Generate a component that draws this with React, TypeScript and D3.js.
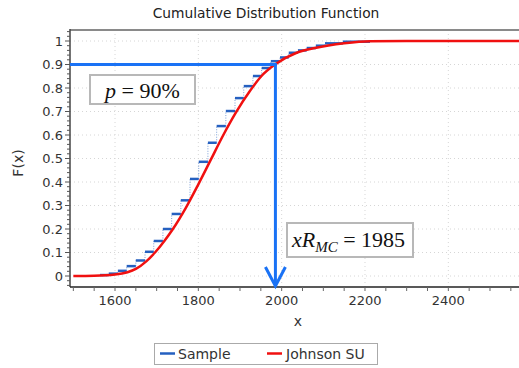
import React from 'react';
import * as d3 from 'd3';

// Johnson SU fitted CDF
const fitX = [1500, 1550, 1600, 1630, 1650, 1675, 1696, 1718, 1739, 1770, 1800, 1830, 1860, 1890, 1925, 1950, 1984, 2036, 2080, 2150, 2212, 2300, 2570];
const fitF = [0, 0.001, 0.006, 0.016, 0.03, 0.062, 0.1, 0.148, 0.2, 0.29, 0.39, 0.495, 0.6, 0.695, 0.79, 0.848, 0.9, 0.95, 0.97, 0.99, 0.999, 1, 1];

// Empirical (sample) CDF steps: level sampleF[i] from sampleX[i] to sampleX[i+1]
const sampleX = [1564, 1585, 1607, 1628, 1650, 1672, 1693, 1715, 1736, 1758, 1780, 1801, 1823, 1844, 1866, 1888, 1909, 1931, 1952, 1974, 1996, 2017, 2039, 2060, 2082, 2104, 2147, 2212];
const sampleF = [0.004, 0.01, 0.022, 0.042, 0.066, 0.103, 0.149, 0.2, 0.264, 0.322, 0.413, 0.486, 0.567, 0.638, 0.702, 0.757, 0.808, 0.851, 0.885, 0.914, 0.93, 0.95, 0.96, 0.97, 0.98, 0.99, 0.997];

const yTickValues = [0, 0.1, 0.2, 0.3, 0.4, 0.5, 0.6, 0.7, 0.8, 0.9, 1];
const yTickLabels = ['0', '0.1', '0.2', '0.3', '0.4', '0.5', '0.6', '0.7', '0.8', '0.9', '1'];
const xTickValues = [1600, 1800, 2000, 2200, 2400];
const xTickLabels = ['1600', '1800', '2000', '2200', '2400'];

const pLevel = 0.9;
const xR = 1985;

const W = 519, H = 368;
const L = 70, R = 519, T = 30, B = 287;

const SANS = '"DejaVu Sans", Verdana, sans-serif';
const SERIF = '"Liberation Serif", "Times New Roman", serif';

export default function App() {
  const x = d3.scaleLinear().domain([1600, 2400]).range([115, 448.33]);
  const y = d3.scaleLinear().domain([0, 1]).range([276, 41]);

  const xMinor = d3.range(1500, 2551, 50);
  const yMinor = d3.range(-0.04, 1.041, 0.02).map(v => Math.round(v * 100) / 100);

  const fitLine = d3.line<number>()
    .x((_, i) => x(fitX[i]))
    .y(d => y(d))
    .curve(d3.curveMonotoneX)(fitF) as string;

  const blue = '#2560c0';
  const annBlue = '#1a72f5';

  const xa = x(xR);
  const ya = y(pLevel);

  return (
    <svg width={W} height={H} style={{ position: 'absolute', left: 0, top: 0, background: '#fff' }}>
      <defs>
        <clipPath id="plot">
          <rect x={L} y={T} width={R - L} height={B - T} />
        </clipPath>
      </defs>
      {/* title */}
      <text x={266} y={18} textAnchor="middle" fontFamily={SANS} fontSize={13.8} fill="#222">Cumulative Distribution Function</text>

      {/* grid */}
      {yTickValues.map(v => (
        <line key={'gy' + v} x1={L} x2={R} y1={y(v)} y2={y(v)} stroke="#d6d6d6" strokeWidth={1} strokeDasharray="1,3" />
      ))}
      {xTickValues.map(v => (
        <line key={'gx' + v} x1={x(v)} x2={x(v)} y1={T} y2={B} stroke="#d6d6d6" strokeWidth={1} strokeDasharray="1,3" />
      ))}

      {/* sample steps */}
      <g clipPath="url(#plot)">
        {sampleF.map((f, i) => (
          i > 0 ? (
            <line key={'sv' + i} x1={x(sampleX[i])} x2={x(sampleX[i])} y1={y(sampleF[i - 1])} y2={y(f)} stroke={blue} strokeOpacity={0.6} strokeWidth={1} strokeDasharray="1,1.5" />
          ) : null
        ))}
        {sampleF.map((f, i) => (
          <line key={'sh' + i} x1={x(sampleX[i])} x2={x(sampleX[i + 1])} y1={y(f)} y2={y(f)} stroke={blue} strokeWidth={2.5} />
        ))}
        <path d={fitLine} fill="none" stroke="#f01010" strokeWidth={2.5} />
      </g>

      {/* frame / axes */}
      <line x1={L} x2={R} y1={T} y2={T} stroke="#8a8a8a" strokeWidth={2} />
      <line x1={L} x2={L} y1={T - 1} y2={B} stroke="#444" strokeWidth={1.5} />
      <line x1={L} x2={R} y1={B} y2={B} stroke="#222" strokeWidth={1.5} />

      {/* y ticks */}
      {yMinor.map(v => {
        const major = Math.abs(v * 10 - Math.round(v * 10)) < 1e-6;
        return <line key={'ym' + v} x1={L - (major ? 5 : 3)} x2={L} y1={y(v)} y2={y(v)} stroke="#555" strokeWidth={1} />;
      })}
      {yTickValues.map((v, i) => (
        <text key={'yl' + v} x={63} y={y(v)} dy="0.36em" textAnchor="end" fontFamily={SANS} fontSize={13} fill="#333">{yTickLabels[i]}</text>
      ))}

      {/* x ticks */}
      {xMinor.map(v => (
        <line key={'xm' + v} x1={x(v)} x2={x(v)} y1={B} y2={B + 4} stroke="#666" strokeWidth={1} />
      ))}
      {xTickValues.map((v, i) => (
        <text key={'xl' + v} x={x(v)} y={305} textAnchor="middle" fontFamily={SANS} fontSize={13} fill="#333">{xTickLabels[i]}</text>
      ))}

      {/* axis titles */}
      <text x={298} y={326} textAnchor="middle" fontFamily={SANS} fontSize={14} fill="#333">x</text>
      <text transform={`translate(23,${163}) rotate(-90)`} textAnchor="middle" fontFamily={SANS} fontSize={14} fill="#333">F(x)</text>

      {/* annotation lines */}
      <line x1={L} x2={xa + 1.5} y1={ya} y2={ya} stroke={annBlue} strokeWidth={3} />
      <line x1={xa} x2={xa} y1={ya} y2={B - 1} stroke={annBlue} strokeWidth={3} />
      <polyline points={`${xa - 10},${B - 20} ${xa},${B - 1} ${xa + 10},${B - 20}`} fill="none" stroke={annBlue} strokeWidth={3} />

      {/* text boxes */}
      <rect x={90} y={75} width={105} height={29} fill="#fff" stroke="#b8b8b8" strokeWidth={2} />
      <text x={105} y={98} fontFamily={SERIF} fontSize={22} fill="#111">
        <tspan fontStyle="italic">p</tspan>
        <tspan> = 90%</tspan>
      </text>
      <rect x={287} y={223} width={126} height={34} fill="#fff" stroke="#b8b8b8" strokeWidth={2} />
      <text x={292} y={247} fontFamily={SERIF} fontSize={22} fill="#111">
        <tspan fontStyle="italic">xR</tspan>
        <tspan fontStyle="italic" fontSize={15} dy={5}>MC</tspan>
        <tspan dy={-5}> = 1985</tspan>
      </text>

      {/* legend */}
      <rect x={154.5} y={343.5} width={223} height={21} fill="#fff" stroke="#aaa" strokeWidth={1} />
      <line x1={160} x2={175} y1={353.5} y2={353.5} stroke={blue} strokeWidth={2.5} />
      <text x={178} y={358.5} fontFamily={SANS} fontSize={14} fill="#333">Sample</text>
      <line x1={267} x2={282} y1={353.5} y2={353.5} stroke="#f01010" strokeWidth={2.5} />
      <text x={286} y={358.5} fontFamily={SANS} fontSize={14} fill="#333">Johnson SU</text>
    </svg>
  );
}
